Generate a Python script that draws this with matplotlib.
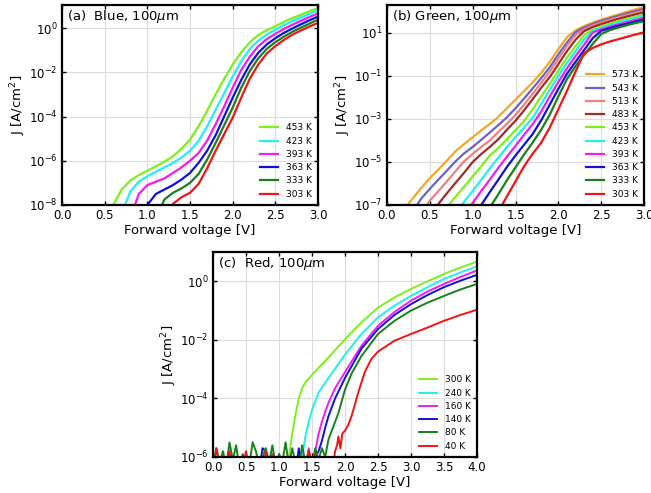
import matplotlib

matplotlib.use("Agg")
import matplotlib.pyplot as plt
import numpy as np

nan = np.nan

# ---- (a) Blue, 100um : log10(J) on a shared voltage grid ----
BLUE_V = [0.5, 0.6, 0.7, 0.8, 0.9, 1.0, 1.1, 1.2, 1.3, 1.4, 1.5, 1.6, 1.7,
          1.8, 1.9, 2.0, 2.1, 2.2, 2.3, 2.4, 2.5, 2.6, 2.7, 2.8, 2.9, 3.0]
BLUE_TEMPS = ["453 K", "423 K", "393 K", "363 K", "333 K", "303 K"]
BLUE_COLORS = ["#7cf01c", "#1ff0f0", "#f01cf0", "#1010d8", "#18801c", "#f01414"]
BLUE_LOGJ = [
    [nan, -8.0, -7.3, -6.9, -6.65, -6.45, -6.25, -6.05, -5.8, -5.45, -5.05, -4.45, -3.75,
     -3.0, -2.3, -1.65, -1.1, -0.65, -0.32, -0.1, 0.08, 0.28, 0.45, 0.6, 0.76, 0.92],
    [nan, nan, -8.4, -7.4, -6.95, -6.7, -6.5, -6.3, -6.1, -5.85, -5.55, -5.1, -4.45,
     -3.7, -2.95, -2.2, -1.5, -0.95, -0.57, -0.3, -0.08, 0.13, 0.31, 0.48, 0.64, 0.8],
    [nan, nan, nan, -8.6, -7.5, -7.1, -6.95, -6.8, -6.55, -6.3, -6.0, -5.65, -5.1,
     -4.35, -3.55, -2.7, -1.9, -1.3, -0.82, -0.5, -0.26, -0.04, 0.15, 0.33, 0.5, 0.66],
    [nan, nan, nan, nan, -9.0, -8.0, -7.5, -7.3, -7.1, -6.85, -6.55, -6.1, -5.55,
     -4.85, -4.0, -3.15, -2.35, -1.65, -1.12, -0.74, -0.46, -0.22, -0.02, 0.17, 0.35, 0.52],
    [nan, nan, nan, nan, nan, nan, -8.6, -7.75, -7.45, -7.25, -7.0, -6.6, -5.95,
     -5.2, -4.4, -3.6, -2.7, -1.95, -1.37, -0.94, -0.64, -0.39, -0.17, 0.02, 0.2, 0.38],
    [nan, nan, nan, nan, nan, nan, nan, -9.0, -7.95, -7.65, -7.45, -7.05, -6.35,
     -5.55, -4.8, -4.05, -3.15, -2.3, -1.65, -1.15, -0.82, -0.54, -0.3, -0.11, 0.07, 0.23],
]

# ---- (b) Green, 100um ----
GREEN_V = [0.2, 0.3, 0.4, 0.5, 0.6, 0.7, 0.8, 0.9, 1.0, 1.1, 1.2, 1.3, 1.4, 1.5, 1.6,
           1.7, 1.8, 1.9, 2.0, 2.1, 2.2, 2.3, 2.4, 2.5, 2.6, 2.7, 2.8, 2.9, 3.0]
GREEN_TEMPS = ["573 K", "543 K", "513 K", "483 K", "453 K",
               "423 K", "393 K", "363 K", "333 K", "303 K"]
GREEN_COLORS = ["#f5a623", "#6a62c8", "#ee8080", "#a32a2a", "#7cf01c",
                "#1ff0f0", "#f01cf0", "#1010d8", "#18801c", "#f01414"]
GREEN_LOGJ = [
    [-7.2, -6.7, -6.2, -5.75, -5.35, -4.93, -4.5, -4.17, -3.85, -3.53, -3.23, -2.9,
     -2.5, -2.1, -1.7, -1.3, -0.85, -0.35, 0.25, 0.8, 1.12, 1.32, 1.48, 1.62, 1.74,
     1.86, 1.99, 2.1, 2.2],
    [nan, -7.3, -6.7, -6.25, -5.82, -5.4, -4.97, -4.6, -4.3, -3.97, -3.63, -3.28,
     -2.92, -2.5, -2.05, -1.58, -1.1, -0.6, 0.0, 0.55, 1.03, 1.25, 1.42, 1.56, 1.68,
     1.8, 1.91, 2.02, 2.12],
    [nan, nan, -7.35, -6.8, -6.35, -5.9, -5.43, -4.97, -4.62, -4.3, -4.0, -3.6,
     -3.22, -2.82, -2.33, -1.83, -1.32, -0.8, -0.2, 0.4, 0.9, 1.17, 1.35, 1.49, 1.61,
     1.73, 1.84, 1.94, 2.04],
    [nan, nan, nan, -7.45, -6.95, -6.45, -5.97, -5.5, -5.0, -4.63, -4.3, -3.94,
     -3.5, -3.08, -2.6, -2.08, -1.55, -1.05, -0.45, 0.15, 0.68, 1.08, 1.27, 1.41, 1.53,
     1.65, 1.76, 1.86, 1.96],
    [nan, nan, nan, nan, -7.6, -7.1, -6.62, -6.15, -5.67, -5.2, -4.7, -4.35,
     -3.94, -3.52, -3.1, -2.55, -1.95, -1.37, -0.75, -0.15, 0.38, 0.9, 1.15, 1.3, 1.43,
     1.55, 1.66, 1.76, 1.86],
    [nan, nan, nan, nan, nan, nan, -7.4, -6.85, -6.35, -5.83, -5.3, -4.8,
     -4.3, -3.85, -3.4, -2.95, -2.3, -1.65, -1.0, -0.4, 0.15, 0.7, 1.08, 1.23, 1.36,
     1.47, 1.58, 1.68, 1.78],
    [nan, nan, nan, nan, nan, nan, nan, -7.45, -6.9, -6.35, -5.82, -5.27,
     -4.75, -4.25, -3.73, -3.25, -2.65, -1.95, -1.28, -0.65, -0.08, 0.45, 1.02, 1.17,
     1.29, 1.4, 1.5, 1.6, 1.7],
    [nan, nan, nan, nan, nan, nan, nan, nan, -7.6, -7.0, -6.4, -5.82,
     -5.23, -4.7, -4.2, -3.7, -3.06, -2.33, -1.6, -0.9, -0.35, 0.2, 0.75, 1.1, 1.22,
     1.33, 1.43, 1.53, 1.62],
    [nan, nan, nan, nan, nan, nan, nan, nan, nan, -7.75, -7.12, -6.5,
     -5.85, -5.25, -4.65, -4.1, -3.5, -2.8, -1.95, -1.15, -0.55, -0.02, 0.48, 0.95,
     1.13, 1.25, 1.36, 1.46, 1.55],
    [nan, nan, nan, nan, nan, nan, nan, nan, nan, nan, nan, -7.3,
     -6.6, -5.9, -5.2, -4.62, -4.1, -3.4, -2.55, -1.7, -0.8, 0.05, 0.3, 0.47, 0.6,
     0.71, 0.82, 0.93, 1.03],
]

# ---- (c) Red, 100um : each curve has its own voltage samples ----
RED_TEMPS = ["300 K", "240 K", "160 K", "140 K", "80 K", "40 K"]
RED_COLORS = ["#7cf01c", "#1ff0f0", "#f01cf0", "#1010d8", "#18801c", "#f01414"]

RED_V_300 = [1.10, 1.15, 1.2, 1.25, 1.3, 1.35, 1.4, 1.5, 1.6, 1.75, 2.0, 2.25, 2.5,
             2.75, 3.0, 3.25, 3.5, 3.75, 4.0]
RED_J_300 = [-6.5, -6.0, -5.2, -4.55, -4.0, -3.65, -3.45, -3.2, -2.95, -2.6, -1.98,
             -1.4, -0.9, -0.55, -0.26, 0.0, 0.25, 0.47, 0.67]

RED_V_240 = [1.3, 1.35, 1.4, 1.45, 1.5, 1.6, 1.75, 2.0, 2.25, 2.5, 2.75, 3.0, 3.25,
             3.5, 3.75, 4.0]
RED_J_240 = [-6.5, -6.0, -5.3, -4.8, -4.4, -3.8, -3.3, -2.5, -1.8, -1.23, -0.83, -0.5,
             -0.2, 0.08, 0.3, 0.51]

RED_V_160 = [1.4, 1.45, 1.5, 1.55, 1.6, 1.65, 1.7, 1.75, 1.85, 2.0, 2.25, 2.5, 2.75,
             3.0, 3.25, 3.5, 3.75, 4.0]
RED_J_160 = [-6.5, -5.7, -6.3, -5.8, -5.2, -4.8, -4.45, -4.15, -3.65, -3.1, -2.2,
             -1.52, -1.05, -0.66, -0.35, -0.09, 0.15, 0.37]

RED_V_140 = [0.7, 0.75, 0.8, 0.85, 1.25, 1.3, 1.35, 1.5, 1.55, 1.6, 1.65, 1.7, 1.75,
             1.85, 2.0, 2.25, 2.5, 2.75, 3.0, 3.25, 3.5, 3.75, 4.0]
RED_J_140 = [-6.5, -5.7, -5.8, -6.5, -6.5, -5.7, -6.5, -6.5, -6.0, -5.8, -5.45, -5.0,
             -4.6, -4.0, -3.3, -2.3, -1.63, -1.15, -0.78, -0.47, -0.2, 0.02, 0.22]

RED_V_80 = [0.0, 0.05, 0.1, 0.15, 0.2, 0.25, 0.3, 0.35, 0.4, 0.45, 0.5, 0.55, 0.6,
            0.65, 0.7, 0.75, 0.8, 0.85, 0.9, 0.95, 1.0, 1.05, 1.1, 1.15, 1.2, 1.25,
            1.3, 1.35, 1.4, 1.45, 1.5, 1.55, 1.6, 1.65, 1.7,
            1.75, 1.8, 1.85, 1.9, 2.0, 2.1, 2.25, 2.5, 2.75, 3.0, 3.25, 3.5, 3.75, 4.0]
RED_J_80 = [-6.3, -5.7, -6.2, -5.8, -6.3, -5.5, -6.1, -5.6, -6.4, -5.9, -6.2, -6.3,
            -5.5, -5.8, -6.3, -6.0, -5.7, -6.2, -5.6, -6.3, -5.9, -6.2, -5.5, -6.3,
            -5.7, -6.2, -6.4, -5.6, -6.2, -5.8, -6.3, -5.7, -6.1, -5.7, -6.0,
            -5.4, -5.1, -4.8, -4.5, -3.7, -3.15, -2.55, -1.8, -1.35, -1.0, -0.73, -0.5,
            -0.28, -0.09]

RED_V_40 = [0.0, 0.05, 0.1, 0.15, 0.2, 0.25, 0.3, 0.35, 0.4, 0.45, 0.5, 0.55, 0.6,
            0.65, 0.7, 0.75, 0.8, 0.85, 0.9, 0.95, 1.0, 1.05, 1.1, 1.15, 1.2, 1.25,
            1.3, 1.35, 1.4, 1.45, 1.5, 1.55, 1.6, 1.65, 1.7, 1.75, 1.8, 1.85,
            1.88, 1.9, 1.93, 1.96, 2.0, 2.05, 2.1, 2.2, 2.3, 2.4, 2.5, 2.75, 3.0, 3.25,
            3.5, 3.75, 4.0]
RED_J_40 = [-6.5, -5.7, -6.3, -6.6, -6.5, -5.8, -6.6, -6.5, -6.7, -6.4, -5.8, -6.5,
            -6.7, -6.5, -6.6, -6.5, -5.8, -6.4, -5.9, -6.6, -6.5, -6.6, -6.5, -6.7,
            -6.5, -6.6, -6.5, -6.6, -6.5, -5.8, -6.2, -5.9, -6.6, -6.5, -6.6, -6.5,
            -6.6, -5.8,
            -5.6, -5.3, -5.7, -5.2, -5.1, -4.9, -4.6, -3.8, -3.1, -2.65, -2.4, -2.03,
            -1.8, -1.58, -1.35, -1.15, -0.97]

RED_V = [RED_V_300, RED_V_240, RED_V_160, RED_V_140, RED_V_80, RED_V_40]
RED_LOGJ = [RED_J_300, RED_J_240, RED_J_160, RED_J_140, RED_J_80, RED_J_40]

FIG_W, FIG_H = 651, 493


def px_axes(fig, left, top, right, bottom):
    return fig.add_axes([left / FIG_W, 1 - bottom / FIG_H,
                         (right - left) / FIG_W, (bottom - top) / FIG_H])


def style_axis(ax, title, xmax, ylim, yticks):
    ax.set_yscale("log")
    ax.set_xlim(0, xmax)
    ax.set_ylim(*ylim)
    ax.set_xticks(np.arange(0, xmax + 0.01, 0.5))
    ax.set_xticklabels([f"{t:.1f}" for t in np.arange(0, xmax + 0.01, 0.5)])
    ax.set_yticks(yticks)
    ax.yaxis.set_minor_locator(matplotlib.ticker.NullLocator())
    ax.grid(True, color="#dcdcdc", linewidth=0.8)
    ax.set_axisbelow(True)
    ax.tick_params(direction="in", top=True, right=True, length=3, width=1,
                   labelsize=8.5, pad=3)
    for sp in ax.spines.values():
        sp.set_linewidth(1.6)
    ax.set_xlabel("Forward voltage [V]", fontsize=9.5, labelpad=1)
    ax.set_ylabel("J [A/cm$^2$]", fontsize=9.5, labelpad=1)
    ax.text(0.02, 0.985, title, transform=ax.transAxes, va="top", ha="left",
            fontsize=9.5)


def add_legend(ax):
    ax.legend(loc="lower right", frameon=False, fontsize=6.5, handlelength=2.1,
              labelspacing=0.47, handletextpad=0.8, borderaxespad=0.3)


fig = plt.figure(figsize=(FIG_W / 100, FIG_H / 100), dpi=100)

ax_a = px_axes(fig, 62, 5, 318, 205)
for temp, color, logj in zip(BLUE_TEMPS, BLUE_COLORS, BLUE_LOGJ):
    ax_a.plot(BLUE_V, 10.0 ** np.array(logj), color=color, lw=1.6, label=temp)
style_axis(ax_a, "(a)  Blue, 100$\\mu$m", 3.0, (1e-8, 11),
           [1e-8, 1e-6, 1e-4, 1e-2, 1e0])
add_legend(ax_a)

ax_b = px_axes(fig, 387, 5, 644, 205)
for temp, color, logj in zip(GREEN_TEMPS, GREEN_COLORS, GREEN_LOGJ):
    ax_b.plot(GREEN_V, 10.0 ** np.array(logj), color=color, lw=1.6, label=temp)
style_axis(ax_b, "(b) Green, 100$\\mu$m", 3.0, (1e-7, 200),
           [1e-7, 1e-5, 1e-3, 1e-1, 1e1])
add_legend(ax_b)

ax_c = px_axes(fig, 213, 252, 477, 457)
for temp, color, v, logj in zip(RED_TEMPS, RED_COLORS, RED_V, RED_LOGJ):
    ax_c.plot(v, 10.0 ** np.array(logj), color=color, lw=1.4, label=temp)
style_axis(ax_c, "(c)  Red, 100$\\mu$m", 4.0, (1e-6, 10),
           [1e-6, 1e-4, 1e-2, 1e0])
add_legend(ax_c)

fig.savefig("out.png", dpi=100)
